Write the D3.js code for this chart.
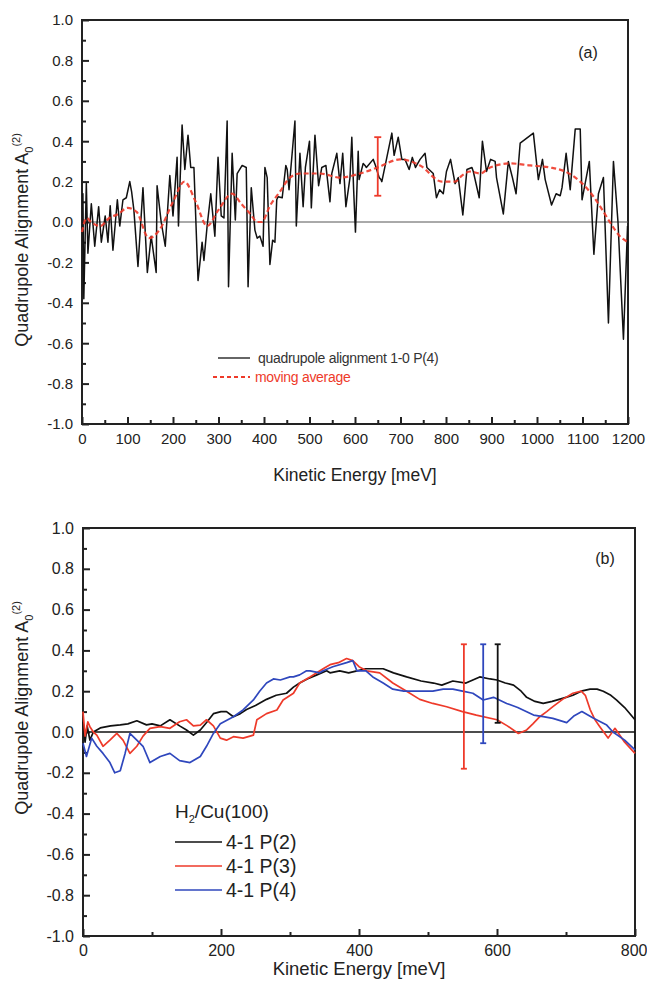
<!DOCTYPE html>
<html>
<head>
<meta charset="utf-8">
<script src="https://cdn.jsdelivr.net/npm/d3@7"></script>
<style>
  html, body { margin: 0; padding: 0; background: #ffffff; }
  svg { display: block; font-family: Arial, "Liberation Sans", sans-serif; }
</style>
</head>
<body>
<svg id="chart" width="647" height="982"></svg>
<script>
// ---------- Panel (a) data ----------
const aEnergy = [0,2,4,9.5,13,20.5,28,36.6,42.5,51,57,62,68,77.7,83,90,97.4,105,109,114,123,134,143.6,152,163,165,174,183,193,200,209,212,220,226,233,239,246,255,264,268,275,283,292,299,306,312,319,322,330,337,341,352,361,365,372,380,385,391,398,402,407,413,419,424,428,431,440,448,451,455,468,471,479,486,491,500,504,512,520,527,536,545,549,560,567,573,580,589,593,597,601,607,609,618,622,625,640,645,653,657,659,670,681,686,695,703,710,719,726,733,743,754,758,772,779,786,794,801,810,820,827,837,846,857,860,873,880,889,898,908,911,926,937,946,954,963,992,1003,1012,1018,1032,1042,1051,1055,1064,1073,1084,1095,1099,1115,1125,1135,1146,1157,1168,1178,1190,1199];
const aAlign = [0.12,0.14,-0.38,0.19,-0.155,0.09,-0.12,0.076,-0.1,0.03,-0.1,0.08,-0.14,0.11,-0.02,0.11,0.12,0.2,0.15,0.06,-0.22,0.17,-0.25,-0.07,-0.25,0.18,0.0,-0.12,0.23,0.03,0.32,-0.02,0.48,0.26,0.43,0.27,0.27,-0.29,-0.1,-0.19,-0.02,0.14,-0.07,0.32,0.03,0.02,0.5,-0.32,0.34,0.01,0.24,0.28,0.27,-0.32,0.17,-0.04,-0.08,-0.07,-0.12,0.27,0.22,-0.21,-0.09,-0.1,0.11,0.125,0.12,0.28,0.26,0.16,0.5,-0.02,0.34,0.076,0.27,0.4,0.07,0.43,0.18,0.27,0.28,0.1,0.24,0.34,0.19,0.34,0.076,0.22,0.42,0.16,-0.05,0.35,0.21,0.29,0.28,0.27,0.31,0.28,0.22,0.21,0.2,0.32,0.44,0.33,0.42,0.31,0.31,0.26,0.32,0.27,0.31,0.34,0.27,0.24,0.12,0.16,0.14,0.25,0.31,0.19,0.22,0.035,0.26,0.27,0.25,0.12,0.4,0.25,0.31,0.3,0.22,0.04,0.3,0.22,0.14,0.39,0.44,0.21,0.31,0.21,0.084,0.14,0.13,0.17,0.34,0.16,0.46,0.46,0.11,0.3,-0.16,0.14,0.22,-0.5,0.3,0.0,-0.58,-0.02];

const avgEnergy = [0,10,20,40,60,80,100,120,147,170,200,225,250,275,300,330,350,370,385,395,413,435,457,479,523,567,611,650,699,743,791,820,835,853,875,897,941,985,1028,1062,1095,1116,1138,1160,1182,1200];
const avgAlign  = [-0.05,0.02,0.0,-0.02,0.02,0.04,0.07,0.05,-0.08,-0.04,0.1,0.2,0.1,-0.02,0.06,0.14,0.09,0.04,0.0,0.0,0.08,0.15,0.22,0.24,0.24,0.22,0.24,0.27,0.31,0.28,0.2,0.2,0.23,0.25,0.24,0.27,0.29,0.28,0.27,0.25,0.2,0.15,0.08,0.0,-0.07,-0.1];

const aErrX = 650, aErrLo = 0.13, aErrHi = 0.42;

// ---------- Panel (b) data ----------
const p2Energy = [0,3,6,10,15,25,40,54,65,78,92,100,112,126,140,150,160,170,180,189,200,208,218,228,237,250,266,280,295,305,314,325,339,353,358,372,385,397,410,435,450,469,490,508,520,536,555,575,590,600,612,624,635,643,655,667,680,690,700,710,722,735,745,754,765,773,785,800];
const p2Align  = [0.05,-0.05,0.03,-0.04,0.0,0.02,0.03,0.035,0.04,0.055,0.035,0.04,0.03,0.06,0.03,0.01,-0.015,0.01,0.05,0.09,0.1,0.1,0.075,0.09,0.11,0.13,0.16,0.18,0.19,0.22,0.24,0.26,0.28,0.3,0.29,0.3,0.29,0.3,0.31,0.31,0.29,0.27,0.25,0.24,0.23,0.25,0.24,0.27,0.26,0.255,0.24,0.23,0.2,0.17,0.15,0.14,0.15,0.16,0.17,0.18,0.2,0.21,0.21,0.2,0.18,0.157,0.12,0.06];

const p3Energy = [0,3,7,10,15,20,29,39,49,58,68,78,87,97,112,126,140,150,160,170,179,189,199,208,218,232,247,252,266,281,290,305,314,329,348,358,370,382,391,400,411,430,449,469,488,507,527,550,570,600,615,631,643,652,662,672,681,695,710,722,728,735,742,749,761,771,785,800];
const p3Align  = [0.1,-0.02,0.05,0.026,0.0,-0.015,-0.07,-0.04,-0.007,-0.04,-0.105,-0.07,-0.02,0.018,0.026,0.018,0.05,0.06,0.03,0.034,0.06,0.03,-0.03,-0.04,-0.023,-0.03,-0.015,0.06,0.09,0.108,0.157,0.19,0.24,0.27,0.31,0.33,0.34,0.36,0.35,0.32,0.3,0.29,0.24,0.2,0.16,0.14,0.124,0.1,0.083,0.06,0.03,-0.007,0.01,0.04,0.075,0.1,0.124,0.16,0.19,0.2,0.18,0.11,0.06,0.026,-0.03,0.018,-0.05,-0.105];

const p4Energy = [0,5,12.6,20,29,39,46,54,61,68,78,87,97,112,126,140,155,170,179,189,199,218,232,247,256,266,276,286,300,305,314,324,329,343,348,362,382,391,397,410,420,435,449,465,478,493,507,522,536,550,565,580,595,614,630,653,667,681,701,712,723,740,759,768,785,800];
const p4Align  = [-0.055,-0.12,-0.03,-0.07,-0.105,-0.15,-0.2,-0.19,-0.105,-0.007,-0.04,-0.07,-0.15,-0.12,-0.105,-0.14,-0.15,-0.12,-0.07,-0.007,0.04,0.075,0.108,0.157,0.2,0.24,0.26,0.255,0.27,0.27,0.28,0.3,0.3,0.29,0.3,0.32,0.34,0.35,0.3,0.3,0.27,0.24,0.21,0.2,0.2,0.2,0.2,0.21,0.21,0.2,0.19,0.157,0.17,0.14,0.12,0.083,0.075,0.067,0.046,0.08,0.1,0.067,0.034,0.0,-0.04,-0.088];

const bErrX  = [552, 580, 601];
const bErrLo = [-0.18, -0.055, 0.045];
const bErrHi = [0.43, 0.43, 0.43];

const yTicks = [-1.0,-0.8,-0.6,-0.4,-0.2,0.0,0.2,0.4,0.6,0.8,1.0];
const aXTicks = [0,100,200,300,400,500,600,700,800,900,1000,1100,1200];
const bXTicks = [0,200,400,600,800];
const legendA = ["quadrupole alignment 1-0 P(4)", "moving average"];
const legendB = ["4-1 P(2)", "4-1 P(3)", "4-1 P(4)"];

// ---------- Styles ----------
const RED = "#ee3a2a", BLUE = "#2f47bd", BLACK = "#111111";
const svg = d3.select("#chart");

function drawPanel(opts) {
  const {x, y, xTicks, xMinor, tickFont, titleFont, xTitleY, yTitleCenter, zeroColor, zeroWidth} = opts;
  const g = svg.append("g");
  const [x0, x1] = x.range();
  const [y0, y1] = y.range();

  g.append("rect").attr("x", x0).attr("y", y1).attr("width", x1 - x0).attr("height", y0 - y1)
    .attr("fill", "none").attr("stroke", "#222").attr("stroke-width", 2);

  g.append("line").attr("x1", x0).attr("x2", x1).attr("y1", y(0)).attr("y2", y(0))
    .attr("stroke", zeroColor).attr("stroke-width", zeroWidth);

  const yAx = g.append("g").attr("transform", `translate(${x0},0)`)
    .call(d3.axisLeft(y).tickValues(yTicks).tickSize(-7).tickPadding(9).tickFormat(d3.format(".1f")));
  const yMin = g.append("g").attr("transform", `translate(${x0},0)`)
    .call(d3.axisLeft(y).tickValues(d3.range(-0.9, 1.0, 0.2)).tickSize(-4).tickFormat(""));
  const xAx = g.append("g").attr("transform", `translate(0,${y0})`)
    .call(d3.axisBottom(x).tickValues(xTicks).tickSize(-7).tickPadding(9).tickFormat(d3.format("d")));
  const xMin = g.append("g").attr("transform", `translate(0,${y0})`)
    .call(d3.axisBottom(x).tickValues(xMinor).tickSize(-4).tickFormat(""));

  [yAx, yMin, xAx, xMin].forEach(a => {
    a.select(".domain").remove();
    a.selectAll(".tick line").attr("stroke", "#222").attr("stroke-width", 2);
    a.selectAll("text").attr("fill", "#222").style("font-size", tickFont + "px")
      .style("font-family", "Arial, 'Liberation Sans', sans-serif");
  });
  yAx.selectAll("text").text(d => d3.format(".1f")(d).replace("−", "-"));

  g.append("text").attr("x", (x0 + x1) / 2).attr("y", xTitleY).attr("text-anchor", "middle")
    .attr("fill", "#222").style("font-size", titleFont + "px").text("Kinetic Energy [meV]");

  const yt = g.append("text").attr("transform", `translate(28,${yTitleCenter}) rotate(-90)`)
    .attr("text-anchor", "middle").attr("fill", "#222").style("font-size", "18px");
  yt.append("tspan").text("Quadrupole Alignment A");
  yt.append("tspan").attr("dy", 5).style("font-size", "11px").text("0");
  yt.append("tspan").attr("dy", -13).style("font-size", "11px").text("(2)");
  return {g, xAx};
}

// ---------- Panel (a) ----------
const xa = d3.scaleLinear().domain([0, 1200]).range([82, 628]);
const ya = d3.scaleLinear().domain([-1, 1]).range([424, 20]);
const pa = drawPanel({
  x: xa, y: ya, xTicks: aXTicks, xMinor: d3.range(50, 1200, 100),
  tickFont: 15, titleFont: 17.5, xTitleY: 481, yTitleCenter: 240,
  zeroColor: "#555", zeroWidth: 1
});
const ga = pa.g;

svg.append("clipPath").attr("id", "clipA").append("rect")
  .attr("x", 82).attr("y", 20).attr("width", 546).attr("height", 404);

const lineA = d3.line().x((d, i) => xa(aEnergy[i])).y(d => ya(d));
ga.append("path").datum(aAlign).attr("d", lineA).attr("fill", "none")
  .attr("stroke", BLACK).attr("stroke-width", 1.5).attr("stroke-linejoin", "round")
  .attr("clip-path", "url(#clipA)");

const lineAvg = d3.line().curve(d3.curveMonotoneX).x((d, i) => xa(avgEnergy[i])).y(d => ya(d));
ga.append("path").datum(avgAlign).attr("d", lineAvg).attr("fill", "none")
  .attr("stroke", RED).attr("stroke-width", 2.2).attr("stroke-dasharray", "5,3").attr("opacity", 0.9);

ga.append("line").attr("x1", xa(aErrX)).attr("x2", xa(aErrX)).attr("y1", ya(aErrLo)).attr("y2", ya(aErrHi))
  .attr("stroke", RED).attr("stroke-width", 1.8);
[aErrLo, aErrHi].forEach(v => ga.append("line").attr("x1", xa(aErrX) - 3.5).attr("x2", xa(aErrX) + 3.5)
  .attr("y1", ya(v)).attr("y2", ya(v)).attr("stroke", RED).attr("stroke-width", 1.8));

ga.append("text").attr("x", 588).attr("y", 58).attr("text-anchor", "middle").attr("fill", "#222")
  .style("font-size", "16px").text("(a)");

ga.append("line").attr("x1", 218).attr("x2", 250).attr("y1", 358).attr("y2", 358)
  .attr("stroke", "#333").attr("stroke-width", 1.5);
ga.append("text").attr("x", 258).attr("y", 363).attr("fill", "#333").style("font-size", "14px")
  .style("letter-spacing", "-0.3px").text(legendA[0]);
ga.append("line").attr("x1", 213).attr("x2", 250).attr("y1", 377).attr("y2", 377)
  .attr("stroke", RED).attr("stroke-width", 2).attr("stroke-dasharray", "4,3");
ga.append("text").attr("x", 255).attr("y", 382).attr("fill", RED).style("font-size", "14px")
  .style("letter-spacing", "-0.3px").text(legendA[1]);

// ---------- Panel (b) ----------
const xb = d3.scaleLinear().domain([0, 800]).range([83, 635]);
const yb = d3.scaleLinear().domain([-1, 1]).range([936, 528]);
const pb = drawPanel({
  x: xb, y: yb, xTicks: bXTicks, xMinor: [100, 300, 500, 700],
  tickFont: 16, titleFont: 18.5, xTitleY: 975, yTitleCenter: 708,
  zeroColor: "#111", zeroWidth: 1.6
});
const gb = pb.g;
// keep the last tick label inside the picture
pb.xAx.selectAll(".tick text").filter(d => d === 800).attr("text-anchor", "end").attr("dx", 12);

const series = [
  {e: p2Energy, v: p2Align, c: BLACK},
  {e: p3Energy, v: p3Align, c: RED},
  {e: p4Energy, v: p4Align, c: BLUE}
];
series.forEach(s => {
  const ln = d3.line().x((d, i) => xb(s.e[i])).y(d => yb(d));
  gb.append("path").datum(s.v).attr("d", ln).attr("fill", "none")
    .attr("stroke", s.c).attr("stroke-width", 1.7).attr("stroke-linejoin", "round");
});

const errColors = [RED, BLUE, BLACK];
bErrX.forEach((xv, i) => {
  gb.append("line").attr("x1", xb(xv)).attr("x2", xb(xv)).attr("y1", yb(bErrLo[i])).attr("y2", yb(bErrHi[i]))
    .attr("stroke", errColors[i]).attr("stroke-width", 1.8);
  [bErrLo[i], bErrHi[i]].forEach(v => gb.append("line").attr("x1", xb(xv) - 3).attr("x2", xb(xv) + 3)
    .attr("y1", yb(v)).attr("y2", yb(v)).attr("stroke", errColors[i]).attr("stroke-width", 1.8));
});

gb.append("text").attr("x", 605).attr("y", 564).attr("text-anchor", "middle").attr("fill", "#222")
  .style("font-size", "16px").text("(b)");

const lt = gb.append("text").attr("x", 175).attr("y", 818).attr("fill", "#222").style("font-size", "19px");
lt.append("tspan").text("H");
lt.append("tspan").attr("dy", 5).style("font-size", "11px").text("2");
lt.append("tspan").attr("dy", -5).text("/Cu(100)");
legendB.forEach((name, i) => {
  const yy = 842 + i * 24;
  gb.append("line").attr("x1", 175).attr("x2", 222).attr("y1", yy).attr("y2", yy)
    .attr("stroke", series[i].c).attr("stroke-width", 1.7);
  gb.append("text").attr("x", 226).attr("y", yy + 7).attr("fill", "#222").style("font-size", "19.5px").text(name);
});
</script>
</body>
</html>
